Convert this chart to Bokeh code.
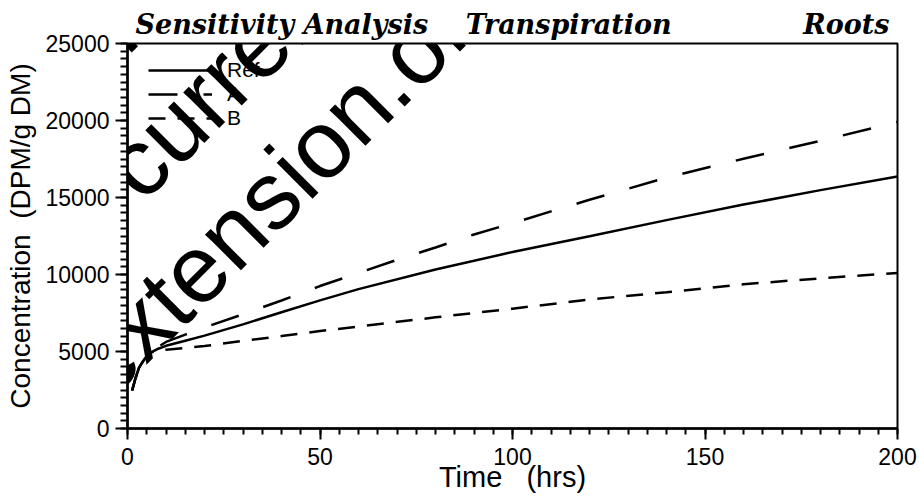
import math
from bokeh.plotting import figure
from bokeh.models import Range1d, FixedTicker, Label, Legend, LegendItem
from bokeh.embed import file_html
from bokeh.resources import INLINE

# ---------------- data ----------------
x_ticks = [0, 50, 100, 150, 200]
y_ticks = [0, 5000, 10000, 15000, 20000, 25000]

ref_t = [1.2, 2, 3, 4, 5, 6, 8, 10, 15, 20, 30, 40, 50, 60, 80, 100, 120, 140, 160, 180, 200]
ref_v = [2470, 3200, 3950, 4350, 4700, 4930, 5180, 5370, 5700, 6030, 6760, 7550, 8320,
         9050, 10320, 11460, 12480, 13530, 14540, 15480, 16360]

a_t = [1.2, 2, 3, 4, 5, 6, 8, 10, 15, 20, 30, 40, 50, 60, 70, 80, 90, 100, 110, 120,
       140, 160, 180, 200]
a_v = [2470, 3200, 3950, 4350, 4700, 4930, 5300, 5620, 6100, 6560, 7420, 8310, 9250,
       10100, 10950, 11750, 12600, 13330, 14100, 14850, 16290, 17520, 18680, 19900]

b_t = [1.2, 2, 3, 4, 5, 6, 8, 10, 15, 20, 30, 40, 50, 60, 80, 100, 120, 140, 160, 180, 200]
b_v = [2470, 3200, 3950, 4350, 4700, 4930, 5050, 5120, 5230, 5350, 5700, 6000, 6330,
       6620, 7220, 7780, 8380, 8850, 9370, 9750, 10100]

series_names = ["Ref", "A", "B"]

NB = "\u00a0"
title_parts = ["Sensitivity Analysis", "Transpiration", "Roots"]
x_label = "Time" + NB * 3 + "(hrs)"
y_label = "Concentration" + NB * 2 + "(DPM/g DM)"

watermark = ["THIS PUBLICATION IS OUT OF DATE.",
             "For most current information:",
             "http://extension.oregonstate.edu/catalog"]

# ---------------- layout ----------------
W, H = 919, 498
X0, X1 = 0, 200
Y0, Y1 = 0, 25000
FL, FR, FT, FB = 127, 897, 43, 428   # frame edges in page pixels
BASE_SHIFT = 0.31                    # renderer's baseline offset, in em


def dx(px):
    return X0 + (px - FL) * (X1 - X0) / (FR - FL)


def dy(py):
    return Y0 + (py - FB) * (Y1 - Y0) / (FT - FB)


p = figure(width=W, height=H, output_backend="svg", toolbar_location=None,
           x_range=Range1d(X0, X1), y_range=Range1d(Y0, Y1),
           min_border_left=FL, min_border_right=W - FR,
           min_border_top=FT, min_border_bottom=H - FB)
p.grid.visible = False
p.background_fill_color = "white"
p.border_fill_color = "white"
p.outline_line_color = "black"
p.outline_line_width = 2

SANS = "Liberation Sans"

for ax in (p.xaxis[0], p.yaxis[0]):
    ax.axis_line_width = 2.5
    ax.major_tick_line_width = 2
    ax.minor_tick_line_width = 2
    ax.major_tick_in = 0
    ax.minor_tick_in = 0
    ax.major_label_text_font = SANS
    ax.major_label_text_font_size = "23px"
    ax.major_label_text_color = "black"
    ax.axis_label_text_font = SANS
    ax.axis_label_text_font_style = "normal"
    ax.axis_label_text_color = "black"

p.xaxis.axis_label_text_font_size = "29px"
p.yaxis.axis_label_text_font_size = "28px"
p.xaxis.ticker = FixedTicker(ticks=x_ticks, minor_ticks=list(range(0, 201, 5)))
p.yaxis.ticker = FixedTicker(ticks=y_ticks, minor_ticks=list(range(0, 25001, 500)))
p.xaxis.major_tick_out = 11
p.xaxis.minor_tick_out = 6
p.yaxis.major_tick_out = 12
p.yaxis.minor_tick_out = 7
p.xaxis.major_label_standoff = 8
p.yaxis.major_label_standoff = 6
p.xaxis.axis_label = x_label
p.yaxis.axis_label = y_label
p.xaxis.axis_label_standoff = -7
p.yaxis.axis_label_standoff = 7

r_ref = p.line(ref_t, ref_v, line_color="black", line_width=2.5)
r_a = p.line(a_t, a_v, line_color="black", line_width=2.5, line_dash="29 26")
r_b = p.line(b_t, b_v, line_color="black", line_width=2.5, line_dash="17 12")

legend = Legend(items=[LegendItem(label=series_names[0], renderers=[r_ref]),
                       LegendItem(label=series_names[1], renderers=[r_a]),
                       LegendItem(label=series_names[2], renderers=[r_b])],
                location=(21, 298), glyph_width=64, glyph_height=20, label_height=20,
                spacing=0, padding=0, margin=0, label_standoff=15,
                border_line_alpha=0, background_fill_alpha=0,
                label_text_font=SANS, label_text_font_size="21px",
                label_text_color="black")
p.add_layout(legend)

# title row: one label in the top panel (not clipped by the frame)
TFS = 27
title_text = title_parts[0] + NB * 4 + title_parts[1] + NB * 14 + title_parts[2]
p.add_layout(Label(x=dx(135), y=dy(32 - BASE_SHIFT * TFS), text=title_text,
                   text_font="DejaVu Serif", text_font_style="bold italic",
                   text_font_size=f"{TFS}px", text_align="left",
                   text_baseline="alphabetic", text_color="black"), "above")

# watermark lines (left aligned, rotated 45 degrees)
WFS = 96
ang = math.pi / 4
u = -449 * math.sqrt(2)
for line, s in zip(watermark, (178, 341, 505)):
    s = s - BASE_SHIFT * WFS * math.sqrt(2)
    px = (s + u) / 2
    py = (s - u) / 2
    p.add_layout(Label(x=dx(px), y=dy(py), text=line, angle=ang, text_font=SANS,
                       text_font_size=f"{WFS}px", text_align="left",
                       text_baseline="alphabetic", text_color="black"))

open("out.html", "w").write(file_html(p, INLINE))
